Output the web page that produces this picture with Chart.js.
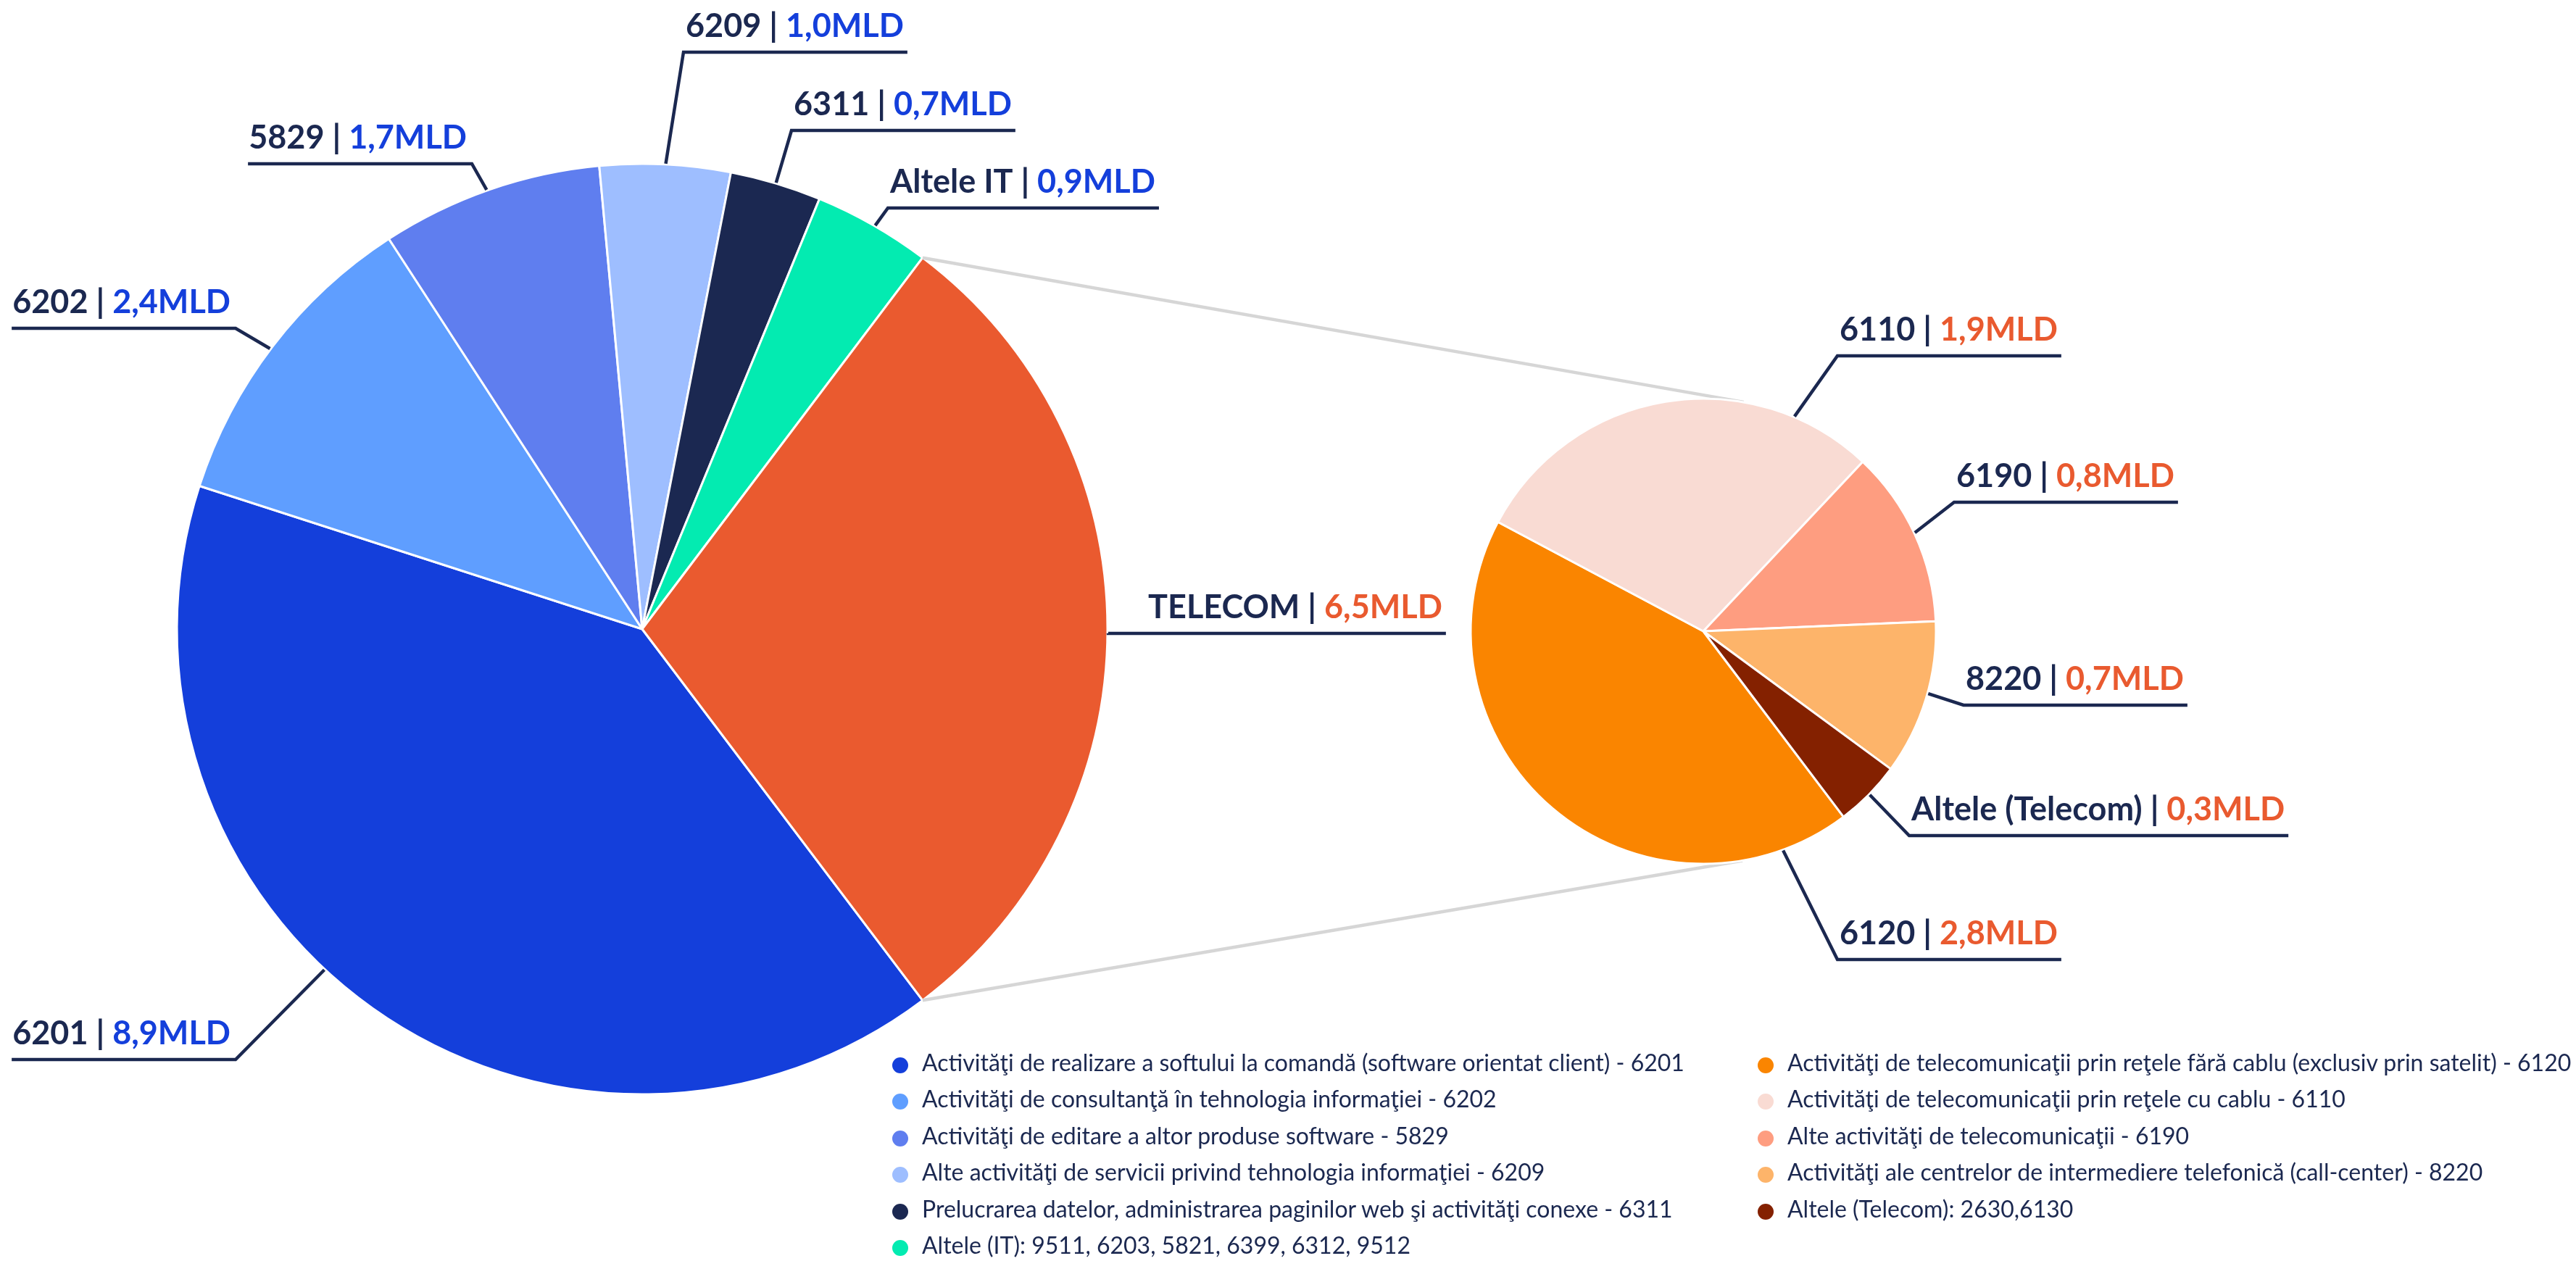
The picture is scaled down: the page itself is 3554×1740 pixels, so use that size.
<!DOCTYPE html>
<html>
<head>
<meta charset="utf-8">
<script src="https://cdn.jsdelivr.net/npm/chart.js@4.4.1/dist/chart.umd.min.js"></script>
<style>
    html, body { margin: 0; padding: 0; background: #fff; }
    #stage { position: relative; width: 3554px; height: 1740px; overflow: hidden; }
    #stage canvas { position: absolute; left: 0; top: 0; }
    .legend { position: absolute; top: 1441px; font-family: Lato, sans-serif; font-size: 32px; color: #1B2850; line-height: 50.4px; }
    .legend .item { position: relative; padding-left: 41px; white-space: nowrap; }
    .legend .dot { position: absolute; left: 0; top: 18px; width: 22px; height: 22px; border-radius: 50%; }
</style>
</head>
<body>
<div id="stage">
    <canvas id="itChart" width="3554" height="1740"></canvas>
    <canvas id="telChart" width="3554" height="1740"></canvas>
    <div class="legend" id="itLegend" style="left:1231px"></div>
    <div class="legend" id="telLegend" style="left:2425px"></div>
</div>
<script>
// IT pie (last slice = TELECOM, exploded into the second pie)
const itCodes = ['6201', '6202', '5829', '6209', '6311', 'Altele IT', 'TELECOM'];
const itValues = [8.9, 2.4, 1.7, 1.0, 0.7, 0.9, 6.5];
const itColors = ['#143FDB', '#5F9EFF', '#5F7EEF', '#9EBEFF', '#1B2851', '#03EBB1', '#EA5A2F'];
const itLegend = [
    'Activităţi de realizare a softului la comandă (software orientat client) - 6201',
    'Activităţi de consultanţă în tehnologia informaţiei - 6202',
    'Activităţi de editare a altor produse software - 5829',
    'Alte activităţi de servicii privind tehnologia informaţiei - 6209',
    'Prelucrarea datelor, administrarea paginilor web şi activităţi conexe - 6311',
    'Altele (IT): 9511, 6203, 5821, 6399, 6312, 9512'
];

// TELECOM breakdown
const telCodes = ['6120', '6110', '6190', '8220', 'Altele (Telecom)'];
const telValues = [2.8, 1.9, 0.8, 0.7, 0.3];
const telColors = ['#FA8500', '#F9DBD3', '#FE9D80', '#FDB46A', '#842100'];
const telLegend = [
    'Activităţi de telecomunicaţii prin reţele fără cablu (exclusiv prin satelit) - 6120',
    'Activităţi de telecomunicaţii prin reţele cu cablu - 6110',
    'Alte activităţi de telecomunicaţii - 6190',
    'Activităţi ale centrelor de intermediere telefonică (call-center) - 8220',
    'Altele (Telecom): 2630,6130'
];

const NAVY = '#1B2850';
const BLUE = '#143FDB';
const ORANGE = '#E95A2F';

// where each label sits: leader starts on the pie edge at angle `at`,
// bends at (x, y), then runs under the text to the left or right
const itLabelPos = [
    { at: 133, x: 325, y: 1462, side: 'left', tone: BLUE },
    { at: 217, x: 325, y: 453, side: 'left', tone: BLUE },
    { at: 250.5, x: 651, y: 226, side: 'left', tone: BLUE },
    { at: 272.9, x: 943, y: 72, side: 'right', tone: BLUE },
    { at: 286.7, x: 1092, y: 180, side: 'right', tone: BLUE },
    { at: 300, x: 1225, y: 287, side: 'right', tone: BLUE },
    { at: 0.5, x: 1529, y: 874, side: 'right', tone: ORANGE, pad: 52 }
];
const telLabelPos = [
    { at: 70, x: 2535, y: 1324, side: 'right', tone: ORANGE },
    { at: 293, x: 2535, y: 491, side: 'right', tone: ORANGE },
    { at: 335, x: 2696, y: 693, side: 'right', tone: ORANGE },
    { at: 15.5, x: 2709, y: 973, side: 'right', tone: ORANGE },
    { at: 44.5, x: 2634, y: 1153, side: 'right', tone: ORANGE }
];

const fmt = v => v.toFixed(1).replace('.', ',') + 'MLD';

function makeLabels(codes, values, pos) {
    return {
        id: 'leaderLabels',
        afterDatasetsDraw(chart) {
            const ctx = chart.ctx;
            const arcs = chart.getDatasetMeta(0).data;
            ctx.save();
            ctx.font = 'bold 45px Lato';
            ctx.textBaseline = 'alphabetic';
            ctx.textAlign = 'left';
            pos.forEach((p, i) => {
                const arc = arcs[i];
                const a = p.at * Math.PI / 180;
                const sx = arc.x + (arc.outerRadius + 1) * Math.cos(a);
                const sy = arc.y + (arc.outerRadius + 1) * Math.sin(a);
                const parts = [[codes[i], NAVY], [' | ', NAVY], [fmt(values[i]), p.tone]];
                const tw = parts.reduce((s, q) => s + ctx.measureText(q[0]).width, 0);
                const pad = p.pad || 0;
                const len = tw + 8 + pad;
                const x0 = p.side === 'left' ? p.x - len : p.x;

                ctx.strokeStyle = NAVY;
                ctx.lineWidth = 4.5;
                ctx.lineJoin = 'miter';
                ctx.beginPath();
                ctx.moveTo(sx, sy);
                ctx.lineTo(p.x, p.y);
                ctx.lineTo(p.side === 'left' ? x0 : x0 + len, p.y);
                ctx.stroke();

                let tx = p.side === 'left' ? x0 + 1 : x0 + 3 + pad;
                parts.forEach(([t, c]) => {
                    ctx.fillStyle = c;
                    ctx.fillText(t, tx, p.y - 21);
                    tx += ctx.measureText(t).width;
                });
            });
            ctx.restore();
        }
    };
}

// both pies start so that the TELECOM slice is centred on the right
const itTotal = itValues.reduce((a, b) => a + b, 0);
const rotation = 90 + itValues[6] / itTotal * 180;

const W = 3554, H = 1740;
const itCenter = { x: 886, y: 868, r: 642 };
const telCenter = { x: 2350, y: 871, r: 321 };

function pieOptions(c) {
    return {
        responsive: false,
        devicePixelRatio: 1,
        animation: false,
        events: [],
        rotation: rotation,
        radius: c.r,
        layout: {
            padding: {
                left: Math.max(0, 2 * c.x - W),
                right: Math.max(0, W - 2 * c.x),
                top: Math.max(0, 2 * c.y - H),
                bottom: Math.max(0, H - 2 * c.y)
            }
        },
        plugins: {
            legend: { display: false },
            tooltip: { enabled: false }
        }
    };
}

const itChart = new Chart(document.getElementById('itChart'), {
    type: 'pie',
    data: {
        labels: itCodes,
        datasets: [{
            data: itValues,
            backgroundColor: itColors,
            borderColor: '#ffffff',
            borderWidth: 3
        }]
    },
    options: pieOptions(itCenter),
    plugins: [makeLabels(itCodes, itValues, itLabelPos)]
});

// grey lines from the TELECOM slice edges, tangent to the second pie
const zoomLines = {
    id: 'zoomLines',
    beforeDatasetsDraw(chart) {
        const big = itChart.getDatasetMeta(0).data[6];
        const small = chart.getDatasetMeta(0).data[0];
        const cx = small.x, cy = small.y, r = small.outerRadius;
        const ctx = chart.ctx;
        ctx.save();
        ctx.strokeStyle = '#D6D6D6';
        ctx.lineWidth = 4.5;
        [big.startAngle, big.endAngle].forEach(a => {
            const px = big.x + big.outerRadius * Math.cos(a);
            const py = big.y + big.outerRadius * Math.sin(a);
            const d = Math.hypot(px - cx, py - cy);
            const th = Math.atan2(py - cy, px - cx);
            const al = Math.acos(r / d);
            const c1 = th + al, c2 = th - al;
            const y1 = cy + r * Math.sin(c1), y2 = cy + r * Math.sin(c2);
            const t = (py < cy) === (y1 < y2) ? c1 : c2;
            ctx.beginPath();
            ctx.moveTo(px, py);
            ctx.lineTo(cx + r * Math.cos(t), cy + r * Math.sin(t));
            ctx.stroke();
        });
        ctx.restore();
    }
};

const telChart = new Chart(document.getElementById('telChart'), {
    type: 'pie',
    data: {
        labels: telCodes,
        datasets: [{
            data: telValues,
            backgroundColor: telColors,
            borderColor: '#ffffff',
            borderWidth: 3
        }]
    },
    options: pieOptions(telCenter),
    plugins: [zoomLines, makeLabels(telCodes, telValues, telLabelPos)]
});

function buildLegend(id, names, colors) {
    const box = document.getElementById(id);
    names.forEach((n, i) => {
        const row = document.createElement('div');
        row.className = 'item';
        const dot = document.createElement('span');
        dot.className = 'dot';
        dot.style.background = colors[i];
        row.appendChild(dot);
        row.appendChild(document.createTextNode(n));
        box.appendChild(row);
    });
}
buildLegend('itLegend', itLegend, itColors);
buildLegend('telLegend', telLegend, telColors);
</script>
</body>
</html>
